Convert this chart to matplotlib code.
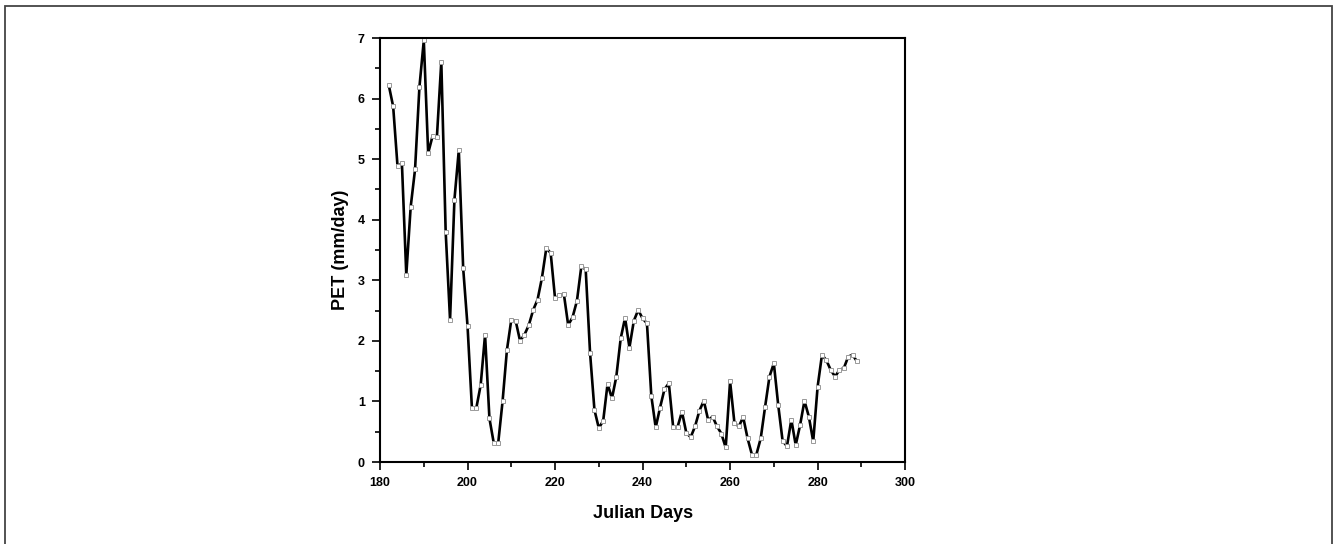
import matplotlib
matplotlib.use('Agg')
import matplotlib.pyplot as plt
from matplotlib.patches import Rectangle
from matplotlib.ticker import MultipleLocator

# daily PET values
days = list(range(182, 290))
pet = [6.22, 5.87, 4.88, 4.93, 3.09, 4.21, 4.83, 6.19, 6.96, 5.10,
       5.38, 5.37, 6.61, 3.80, 2.35, 4.33, 5.15, 3.20, 2.24, 0.89,
       0.89, 1.27, 2.10, 0.72, 0.31, 0.31, 1.00, 1.85, 2.35, 2.33,
       2.00, 2.10, 2.26, 2.51, 2.68, 3.04, 3.53, 3.45, 2.70, 2.75,
       2.78, 2.26, 2.39, 2.66, 3.23, 3.18, 1.80, 0.86, 0.56, 0.68,
       1.29, 1.05, 1.41, 2.04, 2.38, 1.89, 2.33, 2.51, 2.37, 2.29,
       1.09, 0.57, 0.90, 1.20, 1.30, 0.57, 0.58, 0.83, 0.48, 0.41,
       0.59, 0.85, 1.01, 0.69, 0.75, 0.59, 0.47, 0.24, 1.33, 0.64,
       0.59, 0.74, 0.39, 0.12, 0.12, 0.39, 0.91, 1.41, 1.63, 0.94,
       0.35, 0.26, 0.70, 0.28, 0.61, 1.01, 0.75, 0.34, 1.24, 1.77,
       1.68, 1.52, 1.41, 1.52, 1.55, 1.74, 1.77, 1.66]

x_ticks = [180, 200, 220, 240, 260, 280, 300]
y_ticks = [0, 1, 2, 3, 4, 5, 6, 7]

plt.rcParams['font.family'] = ['Liberation Sans', 'DejaVu Sans']
plt.rcParams['font.weight'] = 'bold'

fig = plt.figure(figsize=(13.33, 5.44), dpi=100)
ax = fig.add_axes([0.2851, 0.1507, 0.3939, 0.7794])

ax.plot(days, pet, color='black', lw=1.9,
        marker='s', ms=3.2, mfc='white', mec='#999999', mew=0.7)

ax.set_xlim(180, 300)
ax.set_ylim(0, 7)
ax.set_xticks(x_ticks)
ax.set_yticks(y_ticks)
ax.xaxis.set_minor_locator(MultipleLocator(10))
ax.yaxis.set_minor_locator(MultipleLocator(0.5))
ax.tick_params(which='both', direction='out', width=1.2, labelsize=9, pad=5)
ax.tick_params(which='major', length=6)
ax.tick_params(which='minor', length=3.5)
for lab in ax.get_xticklabels() + ax.get_yticklabels():
    lab.set_fontweight('bold')
for s in ax.spines.values():
    s.set_linewidth(1.5)

ax.set_xlabel('Julian Days', fontsize=13, fontweight='bold', labelpad=11)
ax.set_ylabel('PET (mm/day)', fontsize=13, fontweight='bold', labelpad=6)

# outer frame of the figure
fig.patches.append(Rectangle((5 / 1333, -0.01), 1326.5 / 1333, 1 - 6 / 544 + 0.01,
                             transform=fig.transFigure, fill=False,
                             edgecolor='#444444', lw=1.3))

fig.savefig('out.png', dpi=100)
